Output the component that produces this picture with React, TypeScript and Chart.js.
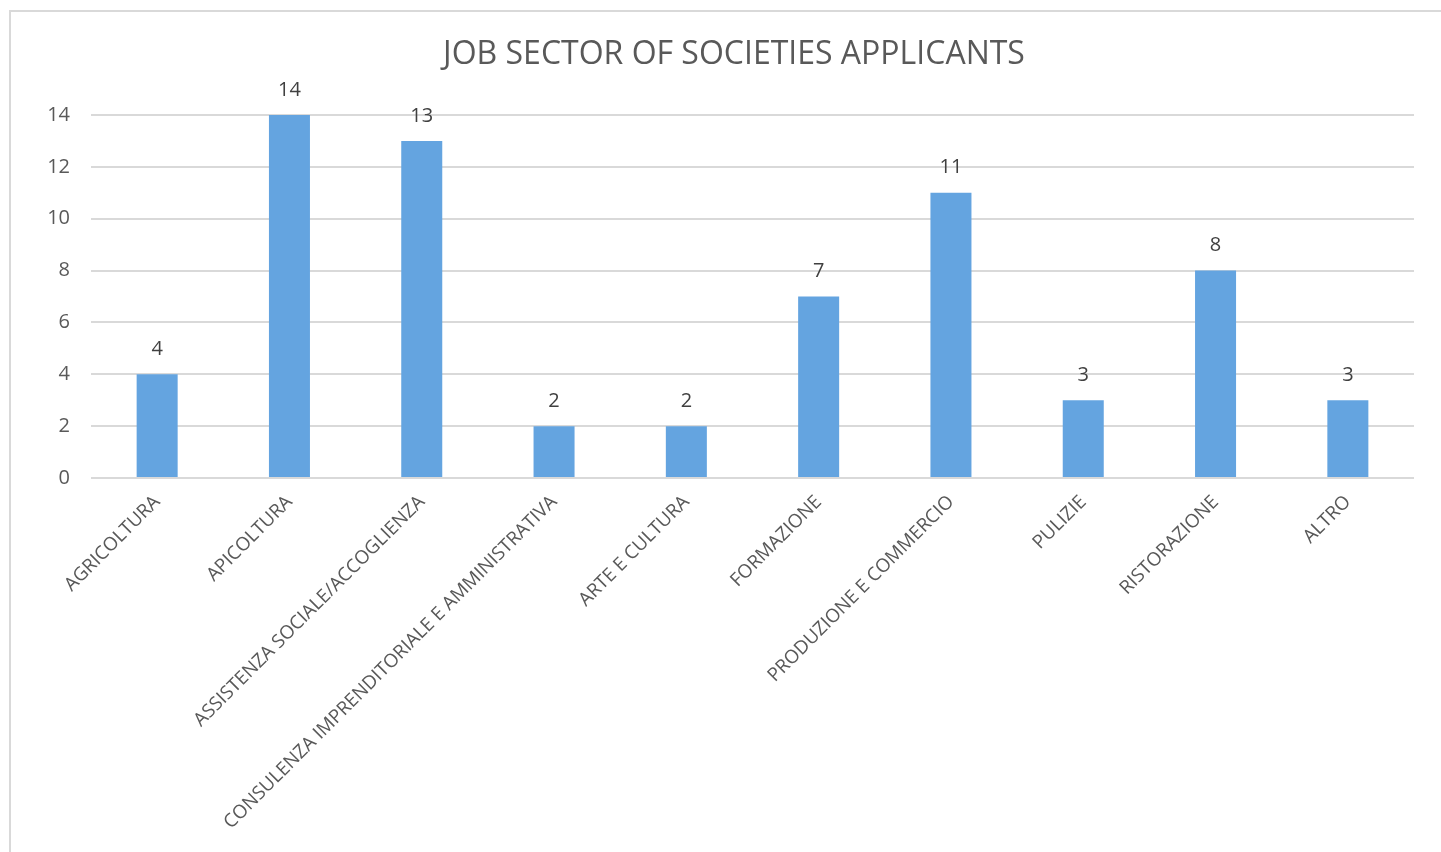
import React, { useEffect, useRef } from "react";
import { Chart, registerables } from "chart.js";

Chart.register(...registerables);

const TITLE = "JOB SECTOR OF SOCIETIES APPLICANTS";
const categories = [
  "AGRICOLTURA",
  "APICOLTURA",
  "ASSISTENZA SOCIALE/ACCOGLIENZA",
  "CONSULENZA IMPRENDITORIALE E AMMINISTRATIVA",
  "ARTE E CULTURA",
  "FORMAZIONE",
  "PRODUZIONE E COMMERCIO",
  "PULIZIE",
  "RISTORAZIONE",
  "ALTRO",
];
const values = [4, 14, 13, 2, 2, 7, 11, 3, 8, 3];
const yTicks = [0, 2, 4, 6, 8, 10, 12, 14];

const FONT = "'Open Sans', sans-serif";

const valueLabels = {
  id: "valueLabels",
  afterLayout(chart: any) {
    // center the title on the whole framed chart (as in the original)
    if (chart.titleBlock) chart.titleBlock.left = 54;
  },
  afterDatasetsDraw(chart: any) {
    const ctx = chart.ctx;
    const meta = chart.getDatasetMeta(0);
    ctx.save();
    ctx.fillStyle = "#404040";
    ctx.font = `20px ${FONT}`;
    ctx.textAlign = "center";
    ctx.textBaseline = "middle";
    meta.data.forEach((bar: any, i: number) => {
      ctx.fillText(String(values[i]), bar.x, bar.y - 25);
    });
    ctx.restore();
  },
};

export default function App() {
  const ref = useRef<HTMLCanvasElement | null>(null);
  useEffect(() => {
    document.documentElement.style.overflow = "hidden";
    document.body.style.overflow = "hidden";
    const canvas = ref.current!;
    const chart = new Chart(canvas, {
      type: "bar",
      data: {
        labels: categories,
        datasets: [
          {
            data: values,
            backgroundColor: "#64a4e0",
            barPercentage: 0.31,
            categoryPercentage: 1,
          },
        ],
      },
      options: {
        responsive: false,
        animation: false,
        devicePixelRatio: 1,
        layout: { padding: { left: 0, right: 54, top: 0, bottom: 0 } },
        plugins: {
          legend: { display: false },
          tooltip: { enabled: false },
          title: {
            display: true,
            text: TITLE,
            color: "#595959",
            font: { family: FONT, size: 32, weight: "normal" },
            padding: { top: 36, bottom: 40.6 },
          },
        },
        scales: {
          x: {
            grid: { display: false },
            border: { display: false },
            ticks: {
              autoSkip: false,
              maxRotation: 45,
              minRotation: 45,
              color: "#595959",
              font: { family: FONT, size: 18.8 },
              padding: 5,
            },
            afterFit: (s: any) => {
              s.height = 374;
            },
          },
          y: {
            min: 0,
            max: 14,
            afterBuildTicks: (s: any) => {
              s.ticks = yTicks.map((v) => ({ value: v }));
            },
            ticks: {
              color: "#595959",
              font: { family: FONT, size: 20 },
              padding: 21,
            },
            grid: { color: "#d9d9d9", lineWidth: 2, drawTicks: false },
            border: { display: false },
            afterFit: (s: any) => {
              s.width = 91;
            },
          },
        },
      },
      plugins: [valueLabels],
    } as any);
    return () => chart.destroy();
  }, []);

  return (
    <>
      <div
        style={{
          position: "absolute",
          left: 9,
          top: 10,
          width: 1470,
          height: 900,
          border: "2px solid #d9d9d9",
          boxSizing: "border-box",
        }}
      />
      <div style={{ position: "absolute", left: 0, top: 0, width: 1468, height: 852 }}>
        <canvas ref={ref} width={1468} height={852} style={{ width: 1468, height: 852 }} />
      </div>
    </>
  );
}
